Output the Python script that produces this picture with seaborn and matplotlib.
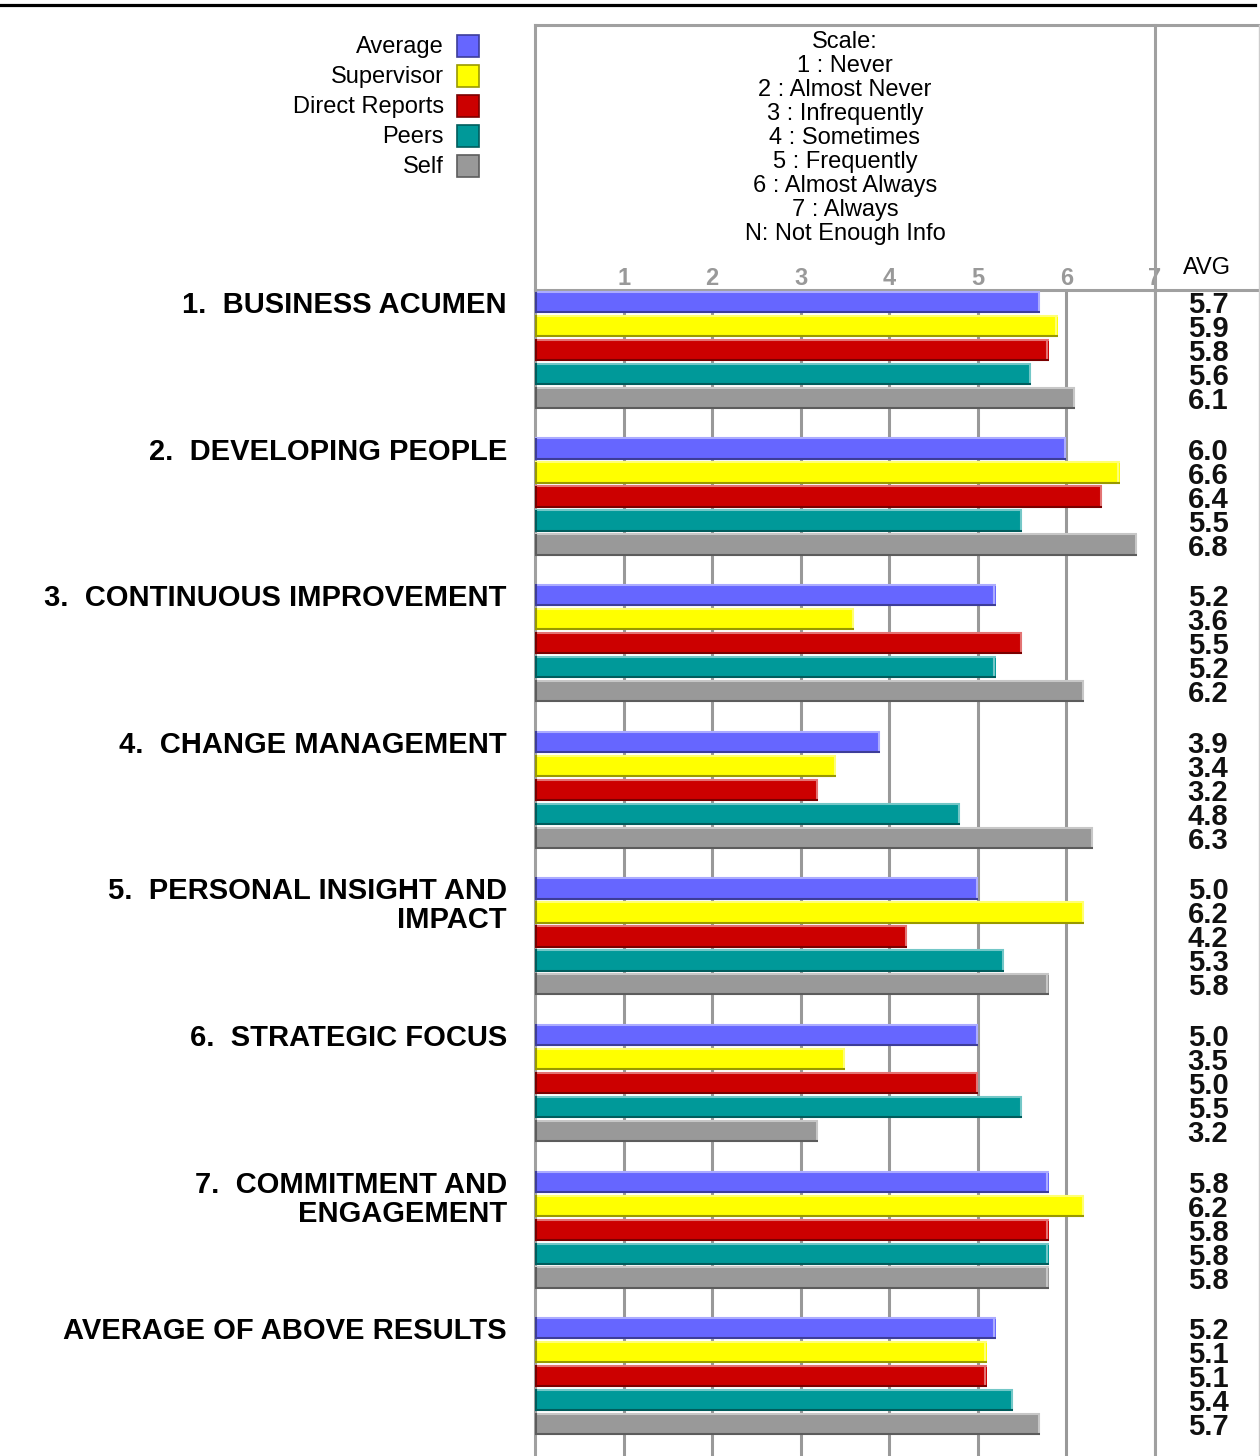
import numpy as np
import pandas as pd
import matplotlib
matplotlib.use('Agg')
import matplotlib.pyplot as plt
import matplotlib.transforms as mtransforms
from matplotlib.lines import Line2D
from matplotlib.patches import Rectangle
import seaborn as sns

# data
categories = ['1.  BUSINESS ACUMEN', '2.  DEVELOPING PEOPLE', '3.  CONTINUOUS IMPROVEMENT',
              '4.  CHANGE MANAGEMENT', '5.  PERSONAL INSIGHT AND\nIMPACT', '6.  STRATEGIC FOCUS',
              '7.  COMMITMENT AND\nENGAGEMENT', 'AVERAGE OF ABOVE RESULTS']
sources = ['Average', 'Supervisor', 'Direct Reports', 'Peers', 'Self']
average = [5.7, 6.0, 5.2, 3.9, 5.0, 5.0, 5.8, 5.2]
supervisor = [5.9, 6.6, 3.6, 3.4, 6.2, 3.5, 6.2, 5.1]
direct_reports = [5.8, 6.4, 5.5, 3.2, 4.2, 5.0, 5.8, 5.1]
peers = [5.6, 5.5, 5.2, 4.8, 5.3, 5.5, 5.8, 5.4]
self_scores = [6.1, 6.8, 6.2, 6.3, 5.8, 3.2, 5.8, 5.7]
scale_lines = ['Scale:', '1 : Never', '2 : Almost Never', '3 : Infrequently', '4 : Sometimes',
               '5 : Frequently', '6 : Almost Always', '7 : Always', 'N: Not Enough Info']
colors = ['#6666FF', '#FFFF00', '#CC0000', '#009999', '#999999']

series = [average, supervisor, direct_reports, peers, self_scores]
rows = []
for src, vals in zip(sources, series):
    for cat, v in zip(categories, vals):
        rows.append({'category': cat, 'source': src, 'value': v})
df = pd.DataFrame(rows)

W, H = 1260, 1456
plt.rcParams['font.family'] = ['Liberation Sans', 'DejaVu Sans']
fig = plt.figure(figsize=(W / 100, H / 100), dpi=100)

def fx(x):
    return x / W

def fy(y):
    return 1 - y / H

ax = fig.add_axes([fx(535), 0, (1155 - 535) / W, (H - 290) / H])
grp_w = 0.818
sns.barplot(data=df, x='value', y='category', hue='source', hue_order=sources, order=categories,
            palette=colors, orient='h', width=grp_w, gap=0.083, saturation=1, legend=False,
            ax=ax, zorder=3)

ax.set_xlim(0, 7)
ax.set_ylim(len(categories) - 0.456, -grp_w / 2)
ax.set_xlabel('')
ax.set_ylabel('')
ax.set_yticks([])
ax.xaxis.tick_top()
ax.set_xticks(range(1, 8))
ax.set_xticklabels([str(i) for i in range(1, 8)], color='#999999', fontsize=17, fontweight='bold')
ax.tick_params(axis='x', length=0, pad=0)
ax.grid(axis='x', color='#999999', lw=2.2, zorder=0)
ax.set_axisbelow(True)
for s in ['left', 'right', 'top']:
    ax.spines[s].set_color('#a0a0a0')
    ax.spines[s].set_linewidth(2.2)
ax.spines['bottom'].set_visible(False)

# bevel edges on bars
for p in ax.patches:
    x0, y0, w, h = p.get_x(), p.get_y(), p.get_width(), p.get_height()
    c = np.array(matplotlib.colors.to_rgb(p.get_facecolor()))
    light = c * 0.55 + 0.45
    dark = c * 0.6
    ins = h * 0.04
    ax.plot([x0, x0 + w], [y0 + ins, y0 + ins], color=light, lw=1.5, zorder=4, solid_capstyle='butt')
    ax.plot([x0 + w - 0.015, x0 + w - 0.015], [y0, y0 + h], color=light, lw=1.5, zorder=4, solid_capstyle='butt')
    ax.plot([x0, x0 + w], [y0 + h - ins, y0 + h - ins], color=dark, lw=1.5, zorder=4, solid_capstyle='butt')
    ax.plot([x0 + 0.012, x0 + 0.012], [y0, y0 + h], color=dark, lw=1.5, zorder=4, solid_capstyle='butt')

# frame lines outside the axes
grey = '#a0a0a0'
fig.add_artist(Line2D([0, fx(1255)], [fy(5), fy(5)], color='black', lw=2.3, transform=fig.transFigure))
fig.add_artist(Line2D([fx(535), fx(1259)], [fy(25), fy(25)], color=grey, lw=2.2, transform=fig.transFigure))
fig.add_artist(Line2D([fx(1155), fx(1259)], [fy(290), fy(290)], color=grey, lw=2.2, transform=fig.transFigure))
fig.add_artist(Line2D([fx(535), fx(535)], [fy(25), fy(290)], color=grey, lw=2.2, transform=fig.transFigure))
fig.add_artist(Line2D([fx(1155), fx(1155)], [fy(25), fy(290)], color=grey, lw=2.2, transform=fig.transFigure))
fig.add_artist(Line2D([fx(1259), fx(1259)], [fy(25), 0], color='#cccccc', lw=1, transform=fig.transFigure))

# legend
for i, (src, col) in enumerate(zip(sources, colors)):
    yc = 46 + 30 * i
    fig.text(fx(444), fy(yc + 1), src, ha='right', va='center', fontsize=17)
    c = np.array(matplotlib.colors.to_rgb(col))
    fig.add_artist(Rectangle((fx(457), fy(yc + 11)), 22 / W, 22 / H, facecolor=col,
                             edgecolor=c * 0.6, lw=1.2, transform=fig.transFigure))

# scale text
for i, line in enumerate(scale_lines):
    fig.text(fx(845), fy(42 + 24 * i), line, ha='center', va='center', fontsize=17)

fig.text(fx(1207), fy(268), 'AVG', ha='center', va='center', fontsize=17)

# category labels and AVG values
blend = mtransforms.blended_transform_factory(fig.transFigure, ax.transData)
bar_h = grp_w / len(sources)
for i, cat in enumerate(categories):
    top = i - grp_w / 2
    for k, line in enumerate(cat.split('\n')):
        ax.text(fx(507), top + bar_h * 0.5 + k * 0.198, line, transform=blend, ha='right',
                va='center_baseline', fontsize=21, fontweight='bold', clip_on=False)
    for j, vals in enumerate(series):
        ax.text(fx(1208), top + bar_h * (j + 0.5), f'{vals[i]:.1f}', transform=blend, ha='center',
                va='center_baseline', fontsize=21, fontweight='bold', color='#111111', clip_on=False)

fig.savefig('out.png', dpi=100)
